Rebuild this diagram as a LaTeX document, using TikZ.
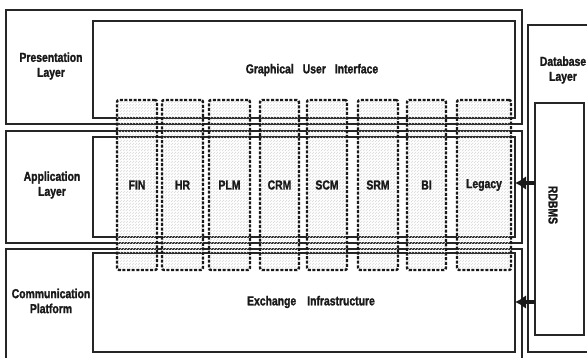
\documentclass[tikz,border=0pt]{standalone}
\usepackage{fontspec}
\setmainfont{Liberation Sans}[FakeStretch=0.8, BoldFeatures={FakeBold=1.5}]
\usetikzlibrary{patterns,arrows.meta}
\newcommand{\lblfont}{\fontsize{13}{15}\selectfont\bfseries}
\tikzset{
  layer/.style={draw=black!85, line width=1.4pt, inner sep=0pt, outer sep=0pt, anchor=north west},
  module/.style={draw=black!90, line width=2.4pt, dash pattern=on 3pt off 1.6pt, rounded corners=2pt,
     pattern=north east lines, pattern color=gray!30, anchor=north west, inner sep=0pt, outer sep=0pt, font=\lblfont},
  lbl/.style={font=\lblfont, align=center, inner sep=0pt, text=black!90},
  link/.style={line width=3.5pt, draw=black!90, -{Latex[length=11pt,width=14pt]}}
}
\begin{document}
\begin{tikzpicture}[x=1pt,y=-1pt]
\useasboundingbox (0,0) rectangle (587,358);
\fill[white] (0,0) rectangle (587,358);
\clip (0,0) rectangle (587,358);
% layers
\node[layer, minimum width=516pt, minimum height=114pt] (pres) at (6,10) {};
\node[layer, minimum width=422pt, minimum height=97pt] (gui) at (93,21) {};
\node[layer, minimum width=516pt, minimum height=112pt] (app) at (6,131) {};
\node[layer, minimum width=422pt, minimum height=100pt] (appin) at (93,137) {};
\node[layer, minimum width=516pt, minimum height=125pt] (comm) at (6,249) {};
\node[layer, minimum width=422pt, minimum height=99pt] (exch) at (93,253) {};
\node[layer, minimum width=80pt, minimum height=327pt] (db) at (528,25) {};
\node[layer, minimum width=49pt, minimum height=232pt] (rdbms) at (535,103) {};
% modules
\node[module, minimum width=40pt, minimum height=170pt] (fin) at (117,100) {};
\node[module, minimum width=41pt, minimum height=170pt] (hr) at (162,100) {};
\node[module, minimum width=41pt, minimum height=170pt] (plm) at (209,100) {};
\node[module, minimum width=39pt, minimum height=170pt] (crm) at (260,100) {};
\node[module, minimum width=40pt, minimum height=170pt] (scm) at (307,100) {};
\node[module, minimum width=40pt, minimum height=170pt] (srm) at (358,100) {};
\node[module, minimum width=39pt, minimum height=170pt] (bi) at (407,100) {};
\node[module, minimum width=54pt, minimum height=170pt] (legacy) at (457,100) {};
\foreach \m/\t in {fin/FIN, hr/HR, plm/PLM, crm/CRM, scm/SCM, srm/SRM, bi/BI, legacy/Legacy}
  \node[lbl] (\m-t) at (\m.center) {\t};
% texts
\node[lbl] (tpres) at (51,66) {Presentation\\Layer};
\node[lbl] (tapp) at (52,185) {Application\\Layer};
\node[lbl] (tcomm) at (51,301) {Communication\\Platform};
\node[lbl] (tgui) at (312,70) {Graphical\hspace{9pt}User\hspace{9pt}Interface};
\node[lbl] (texch) at (311,302) {Exchange\hspace{11pt}Infrastructure};
\node[lbl, rotate=-90] (trdb) at (553,205) {RDBMS};
\node[lbl] (tdb) at (563,70) {Database\\Layer};
% arrows
\draw[link] (rdbms.west |- 0,183) -- (appin.east |- 0,183);
\draw[link] (rdbms.west |- 0,302) -- (exch.east |- 0,302);
\end{tikzpicture}
\end{document}
